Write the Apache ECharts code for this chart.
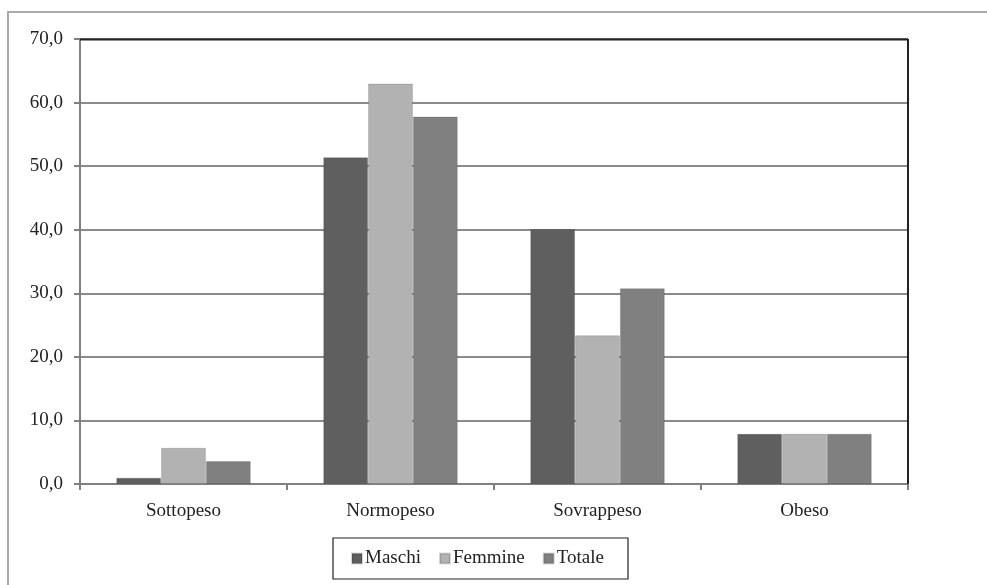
<!DOCTYPE html>
<html>
<head>
<meta charset="utf-8">
<script src="https://cdn.jsdelivr.net/npm/echarts@6/dist/echarts.min.js"></script>
<style>html,body{margin:0;padding:0;background:#fff}#c{width:987px;height:585px}</style>
</head>
<body>
<div id="c"></div>
<script>
var categories = ['Sottopeso', 'Normopeso', 'Sovrappeso', 'Obeso'];
var maschi = [1.0, 51.4, 40.1, 7.9];
var femmine = [5.7, 63.0, 23.4, 7.9];
var totale = [3.6, 57.8, 30.8, 7.9];
var seriesNames = ['Maschi', 'Femmine', 'Totale'];
var yTicks = { min: 0, max: 70, interval: 10 };

var chart = echarts.init(document.getElementById('c'), null, { renderer: 'canvas' });
var font = 'Liberation Serif';
function bar(name, data, color) {
  return {
    name: name, type: 'bar', data: data,
    barGap: '0%', barCategoryGap: '35%',
    itemStyle: { color: color, borderColor: 'rgba(0,0,0,0.15)', borderWidth: 1 },
    emphasis: { disabled: true }
  };
}
chart.setOption({
  animation: false,
  backgroundColor: '#fff',
  graphic: [
    { type: 'rect', shape: { x: 8, y: 12, width: 1000, height: 600 }, style: { fill: 'none', stroke: '#aaaaaa', lineWidth: 2 }, z: 0 },
    { type: 'rect', shape: { x: 333, y: 538, width: 295, height: 41 }, style: { fill: '#fff', stroke: '#222', lineWidth: 1.2 }, z: 1 },
    { type: 'line', shape: { x1: 80, y1: 39.5, x2: 908, y2: 39.5 }, style: { stroke: '#222', lineWidth: 2 }, z: 10 },
    { type: 'line', shape: { x1: 908, y1: 39, x2: 908, y2: 484 }, style: { stroke: '#222', lineWidth: 2 }, z: 10 }
  ],
  legend: {
    data: seriesNames,
    left: 351, top: 549, padding: 0,
    itemWidth: 10, itemHeight: 10, itemGap: 18,
    icon: 'rect',
    textStyle: { fontFamily: font, fontSize: 19, color: '#222', padding: [2, 0, 0, -2] },
    z: 5
  },
  grid: { left: 80, top: 39, right: 79, bottom: 101, containLabel: false },
  xAxis: {
    type: 'category', data: categories,
    axisLine: { lineStyle: { color: '#808080', width: 2 } },
    axisTick: { show: true, length: 6, lineStyle: { color: '#808080', width: 2 } },
    axisLabel: { fontFamily: font, fontSize: 19, color: '#222', margin: 18 }
  },
  yAxis: {
    type: 'value', min: yTicks.min, max: yTicks.max, interval: yTicks.interval,
    axisLine: { show: true, lineStyle: { color: '#808080', width: 2 } },
    axisTick: { show: true, length: 6, lineStyle: { color: '#808080', width: 2 } },
    splitLine: { lineStyle: { color: '#8a8a8a', width: 2 } },
    axisLabel: { fontFamily: font, fontSize: 19, color: '#222', margin: 17,
      formatter: function (v) { return v.toFixed(1).replace('.', ','); } }
  },
  series: [
    bar(seriesNames[0], maschi, '#5f5f5f'),
    bar(seriesNames[1], femmine, '#b2b2b2'),
    bar(seriesNames[2], totale, '#808080')
  ]
});
</script>
</body>
</html>
